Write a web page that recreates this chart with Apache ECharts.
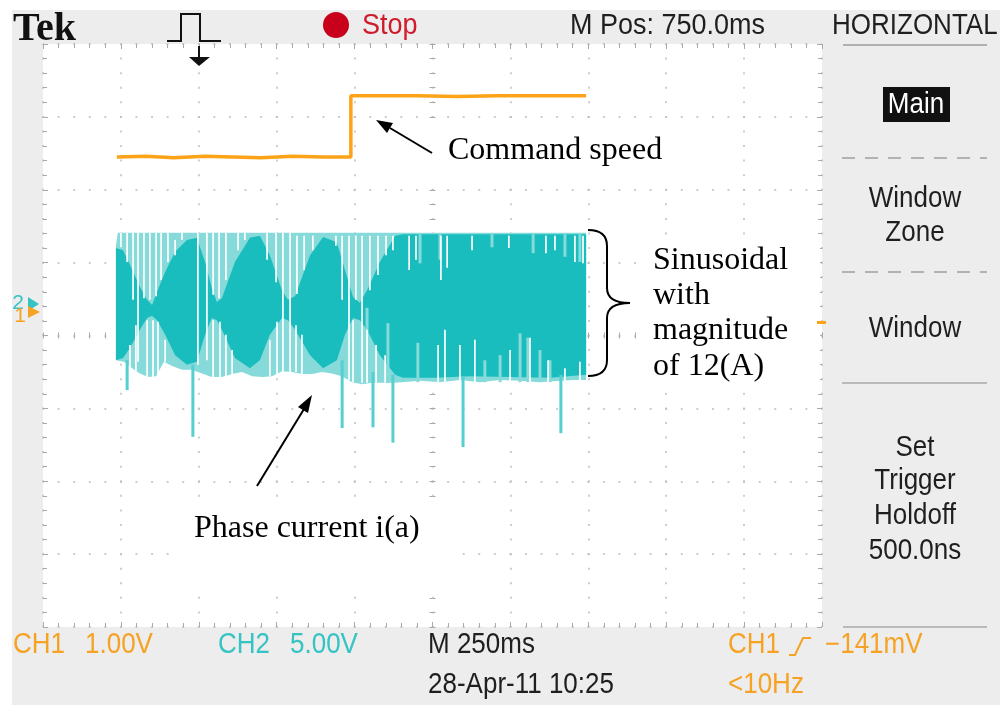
<!DOCTYPE html>
<html>
<head>
<meta charset="utf-8">
<script src="https://cdn.jsdelivr.net/npm/echarts@6/dist/echarts.min.js"></script>
<style>
  html, body { margin: 0; padding: 0; background: #fff; }
  #scope { width: 1000px; height: 705px; }
</style>
</head>
<body>
<div id="scope"></div>
<script>
// ---- Scope settings: 10 horizontal divisions of 250 ms, 8 vertical divisions ----
const X_MIN = 0, X_MAX = 2500, X_STEP = 250;      // ms
const Y_MIN = -4, Y_MAX = 4, Y_STEP = 1;          // divisions

// ---- CH1: command speed (time ms, divisions) ----
const CMD_SPEED = [[237, 2.45], [330, 2.46], [420, 2.44], [520, 2.46], [610, 2.45], [700, 2.44],
  [800, 2.46], [900, 2.45], [988, 2.45], [988, 3.29], [1200, 3.29], [1330, 3.28], [1460, 3.29], [1743, 3.29]];

// ---- CH2: phase current i(a) ----
// outer (aliased) envelope of the trace
const CURRENT_OUTER_TOP = [[234, 1.23], [240, 1.41], [1743, 1.41]];
const CURRENT_OUTER_BOT = [[234, -0.34], [260, -0.36], [286, -0.45], [311, -0.52], [337, -0.57], [363, -0.56],
  [388, -0.36], [414, -0.42], [446, -0.47], [478, -0.47], [510, -0.52], [542, -0.57], [574, -0.57], [607, -0.53],
  [639, -0.50], [671, -0.56], [703, -0.57], [735, -0.56], [767, -0.49], [799, -0.50], [831, -0.53], [863, -0.53],
  [895, -0.50], [927, -0.52], [960, -0.56], [992, -0.64], [1024, -0.67], [1056, -0.65], [1088, -0.65], [1120, -0.65],
  [1152, -0.64], [1210, -0.62], [1274, -0.64], [1338, -0.61], [1402, -0.64], [1467, -0.61], [1531, -0.62],
  [1595, -0.64], [1659, -0.62], [1707, -0.61], [1743, -0.61]];
// dense core of the trace
const CURRENT_CORE_TOP = [[234, 1.20], [257, 1.17], [279, 0.97], [311, 0.67], [334, 0.49], [350, 0.42], [366, 0.60],
  [392, 0.87], [424, 1.15], [462, 1.31], [494, 1.34], [520, 1.01], [542, 0.65], [558, 0.46], [574, 0.51], [616, 1.01],
  [664, 1.34], [696, 1.37], [728, 1.10], [767, 0.62], [786, 0.49], [809, 0.54], [857, 1.10], [899, 1.35], [943, 1.28],
  [969, 0.90], [995, 0.53], [1017, 0.45], [1040, 0.62], [1081, 1.01], [1130, 1.37], [1155, 1.39], [1743, 1.39]];
const CURRENT_CORE_BOT = [[234, -0.34], [257, -0.31], [279, -0.17], [311, 0.08], [334, 0.24], [350, 0.27], [366, 0.21],
  [392, 0.01], [424, -0.27], [462, -0.40], [494, -0.36], [520, 0.01], [542, 0.24], [558, 0.21], [574, 0.08],
  [616, -0.31], [664, -0.45], [696, -0.34], [728, 0.01], [767, 0.24], [786, 0.21], [809, 0.08], [857, -0.27],
  [899, -0.45], [943, -0.34], [969, 0.01], [995, 0.24], [1017, 0.21], [1040, 0.08], [1081, -0.27], [1130, -0.54],
  [1155, -0.58], [1258, -0.58], [1370, -0.56], [1499, -0.57], [1627, -0.58], [1743, -0.54]];
// sparse sweeps inside the dense core: [time, from, to]
const CURRENT_SWEEPS = [[1001, 0.21, -0.64], [1040, 0.38, -0.65], [1107, 0.17, -0.65], [1203, -0.10, -0.64],
  [1418, -0.34, -0.64], [1467, -0.27, -0.64], [1531, 0.03, -0.64], [1556, -0.03, -0.64], [1595, -0.20, -0.64],
  [1627, -0.34, -0.64], [1210, 1.39, 0.99], [1274, 1.39, 1.04], [1441, 1.39, 1.21], [1573, 1.39, 1.13],
  [1675, 1.39, 1.08], [1723, 1.39, 1.01]];
// gaps between sweeps: [time, from, to]
const CURRENT_GAPS = [[250, 1.41, 1.21], [270, 1.41, 1.01], [289, 1.41, 0.49], [305, 1.41, -0.36], [324, 1.41, 0.51],
  [343, 1.41, 0.49], [363, 1.41, 0.54], [379, 1.41, 0.76], [401, 1.41, 1.01], [424, 1.31, 1.10], [446, 1.41, 1.31],
  [497, 1.41, -0.40], [526, 1.41, -0.34], [546, 1.41, 0.56], [565, 1.41, 0.51], [587, 1.41, 0.76], [626, 1.41, 1.17],
  [648, 1.41, 1.31], [719, 1.41, 1.04], [748, 1.41, 0.73], [770, 1.41, -0.54], [793, 1.41, -0.54], [815, 1.37, 0.57],
  [838, 1.37, 0.90], [866, 1.37, 1.17], [940, 1.37, 1.23], [960, 1.37, 0.49], [982, 1.37, -0.61], [1004, 1.37, 0.49],
  [1024, 1.37, -0.65], [1049, 1.37, 0.62], [1075, 1.37, 0.83], [1101, 1.37, 1.10], [1123, 1.37, 1.17],
  [1175, 1.37, 0.90], [1197, 1.37, 1.04], [1277, 1.37, 0.76], [1297, 1.37, 0.93], [1377, 1.37, 1.17],
  [1495, 1.37, 1.20], [1614, 1.37, 1.13], [1643, 1.37, 1.17], [1707, 1.37, 1.01], [1733, 1.37, 0.99],
  [279, -0.13, -0.47], [298, 0.14, -0.54], [334, 0.21, -0.57], [353, 0.21, -0.57], [369, 0.19, -0.54],
  [392, -0.06, -0.36], [546, 0.21, -0.57], [568, 0.19, -0.57], [587, 0.01, -0.57], [607, -0.20, -0.53],
  [728, -0.06, -0.56], [751, 0.19, -0.56], [812, 0.14, -0.50], [831, 0.01, -0.53], [995, 0.21, -0.64],
  [1040, 0.08, -0.65], [1069, -0.13, -0.65], [1098, -0.27, -0.65], [1268, -0.13, -0.64], [1290, 0.08, -0.64],
  [1338, -0.13, -0.64], [1386, -0.06, -0.64], [1499, -0.20, -0.64], [1563, -0.03, -0.64], [1621, -0.34, -0.64],
  [1675, -0.45, -0.64], [1723, -0.36, -0.64]];
// negative spikes: [time, from, to]
const CURRENT_SPIKES = [[270, -0.34, -0.75], [481, -0.40, -1.39], [960, -0.34, -1.27], [1059, -0.50, -1.26],
  [1123, -0.54, -1.47], [1348, -0.56, -1.53], [1662, -0.54, -1.34]];

// ---- Readouts ----
const TOP_READOUT = { pos: 'M Pos: 750.0ms', menu: 'HORIZONTAL', state: 'Stop' };
const CH1_SCALE = ['CH1', '1.00V'];
const CH2_SCALE = ['CH2', '5.00V'];
const TIMEBASE = 'M 250ms';
const STAMP = '28-Apr-11 10:25';
const TRIGGER = ['CH1', '\u2212141mV', '<10Hz'];
const MENU_ITEMS = [['Window', 199], ['Zone', 233], ['Window', 329], ['Set', 448], ['Trigger', 481], ['Holdoff', 516], ['500.0ns', 551]];
const NOTES = { speed: 'Command speed', current: 'Phase current i(a)', magnitude: ['Sinusoidal', 'with', 'magnitude', 'of 12(A)'] };

// ---- Styling ----
const ORANGE = '#fca318', ORANGE_TXT = '#f6a224';
const CYAN_CORE = '#19bdbd', CYAN_LIGHT = '#86dada', CYAN_SPIKE = '#55cfcf', CYAN_TXT = '#36c3c3';
const INK = '#1f1f1f', PANEL = '#ededed';
const DOT = '#bdbdbd', TICK = '#a9a9a9';
const GRID = { left: 43, top: 44, width: 779, height: 583 };
const READ_FONT = '"Liberation Sans", Arial, sans-serif';
const NOTE_FONT = '"Liberation Serif", "Times New Roman", serif';

const chart = echarts.init(document.getElementById('scope'), null, { renderer: 'canvas', width: 1000, height: 705 });

function xAxisAt(position, extra) {
  return Object.assign({
    type: 'value', min: X_MIN, max: X_MAX, interval: X_STEP, position: position,
    axisLine: { show: false, onZero: false }, axisLabel: { show: false },
    axisTick: { show: true, inside: true, length: 5, lineStyle: { color: TICK } },
    minorTick: { show: true, splitNumber: 5, length: 4, lineStyle: { color: TICK } },
    splitLine: { show: false }
  }, extra || {});
}
function yAxisAt(position, extra) {
  return Object.assign({
    type: 'value', min: Y_MIN, max: Y_MAX, interval: Y_STEP, position: position,
    axisLine: { show: false, onZero: false }, axisLabel: { show: false },
    axisTick: { show: true, inside: true, length: 5, lineStyle: { color: TICK } },
    minorTick: { show: true, splitNumber: 5, length: 4, lineStyle: { color: TICK } },
    splitLine: { show: false }
  }, extra || {});
}
const centerTick = (inside) => ({ show: true, inside: inside, length: 3, lineStyle: { color: TICK } });
const centerMinor = { show: true, splitNumber: 5, length: 3, lineStyle: { color: TICK } };

// polygon drawn from all points of the series
function polygonItem(params, api) {
  if (params.dataIndexInside !== 0) return null;
  const pts = [];
  for (let i = 0; i < params.dataInsideLength; i++) {
    pts.push(api.coord([api.value(0, i), api.value(1, i)]));
  }
  return { type: 'polygon', shape: { points: pts }, style: { fill: api.visual('color') } };
}
// vertical stroke [time, from, to]
function strokeItem(width) {
  return function (params, api) {
    const a = api.coord([api.value(0), api.value(1)]);
    const b = api.coord([api.value(0), api.value(2)]);
    return {
      type: 'rect',
      shape: { x: a[0] - width / 2, y: Math.min(a[1], b[1]), width: width, height: Math.abs(b[1] - a[1]) },
      style: { fill: api.visual('color') }
    };
  };
}

function label(text, x, y, color, size, align, extra) {
  return Object.assign({
    type: 'text', x: x, y: y, z: 20, silent: true, scaleY: 1.1,
    style: { text: text, fill: color, fontSize: size, fontFamily: READ_FONT, align: align || 'left', verticalAlign: 'middle' }
  }, extra || {});
}
function note(text, x, y) {
  return {
    type: 'text', x: x, y: y, z: 20, silent: true,
    style: { text: text, fill: '#000', fontSize: 32, fontFamily: NOTE_FONT, align: 'left', verticalAlign: 'middle' }
  };
}
function stroke(type, shape, width) {
  return { type: type, z: 20, silent: true, shape: shape, style: { stroke: '#000', lineWidth: width || 2, fill: null } };
}

const graphics = [
  // white frame margins
  { type: 'rect', shape: { x: 0, y: 0, width: 1000, height: 10 }, style: { fill: '#fff' }, silent: true },
  { type: 'rect', shape: { x: 0, y: 0, width: 12, height: 705 }, style: { fill: '#fff' }, silent: true },
  // brand
  { type: 'text', x: 13, y: 30, z: 20, style: { text: 'Tek', fill: '#111', fontSize: 40, fontWeight: 'bold', fontFamily: NOTE_FONT, verticalAlign: 'middle' } },
  // trigger type pulse and trigger position marker
  { type: 'polyline', z: 20, shape: { points: [[167, 41], [181, 41], [181, 14], [200, 14], [200, 41], [221, 41]] }, style: { stroke: '#111', lineWidth: 2, fill: null } },
  { type: 'line', z: 20, shape: { x1: 199, y1: 46, x2: 199, y2: 58 }, style: { stroke: '#111', lineWidth: 2 } },
  { type: 'polygon', z: 20, shape: { points: [[189, 57], [210, 57], [199, 66]] }, style: { fill: '#111' } },
  // run state
  { type: 'circle', z: 20, shape: { cx: 336, cy: 25, r: 13 }, style: { fill: '#c9001c' } },
  label(TOP_READOUT.state, 362, 26, '#d01b2c', 27),
  label(TOP_READOUT.pos, 570, 26, INK, 27),
  label(TOP_READOUT.menu, 832, 26, INK, 26),
  // side menu
  { type: 'line', z: 20, shape: { x1: 843, y1: 45, x2: 987, y2: 45 }, style: { stroke: '#9c9c9c', lineWidth: 1.5 } },
  { type: 'rect', z: 20, shape: { x: 883, y: 87, width: 67, height: 35 }, style: { fill: '#111' } },
  label('Main', 916, 105, '#fff', 26, 'center'),
  { type: 'line', z: 20, shape: { x1: 842, y1: 158, x2: 987, y2: 158 }, style: { stroke: '#b2b2b2', lineWidth: 2, lineDash: [13, 10] } },
  { type: 'line', z: 20, shape: { x1: 842, y1: 272, x2: 987, y2: 272 }, style: { stroke: '#b2b2b2', lineWidth: 2, lineDash: [13, 10] } },
  { type: 'line', z: 20, shape: { x1: 842, y1: 383, x2: 987, y2: 383 }, style: { stroke: '#a8a8a8', lineWidth: 1.5 } },
  { type: 'line', z: 20, shape: { x1: 843, y1: 627, x2: 987, y2: 627 }, style: { stroke: '#a8a8a8', lineWidth: 1.5 } },
  // channel ground markers and trigger level
  label('2', 18, 303, CYAN_TXT, 21, 'center', { scaleY: 1 }),
  { type: 'polygon', z: 20, shape: { points: [[28, 297], [39, 304], [28, 311]] }, style: { fill: CYAN_TXT } },
  label('1', 20, 316, ORANGE_TXT, 21, 'center', { scaleY: 1 }),
  { type: 'polygon', z: 21, shape: { points: [[28, 306], [40, 312], [28, 318]] }, style: { fill: ORANGE_TXT } },
  { type: 'rect', z: 20, shape: { x: 817, y: 321, width: 9, height: 3 }, style: { fill: ORANGE } },
  // bottom readouts
  label(CH1_SCALE[0], 13, 645, ORANGE_TXT, 26),
  label(CH1_SCALE[1], 85, 645, ORANGE_TXT, 26),
  label(CH2_SCALE[0], 218, 645, CYAN_TXT, 26),
  label(CH2_SCALE[1], 290, 645, CYAN_TXT, 26),
  label(TIMEBASE, 428, 645, INK, 26),
  label(STAMP, 428, 685, INK, 26),
  label(TRIGGER[0], 728, 645, ORANGE_TXT, 26),
  { type: 'polyline', z: 20, shape: { points: [[789, 655], [795, 655], [803, 638], [811, 638]] }, style: { stroke: ORANGE_TXT, lineWidth: 2, fill: null } },
  label(TRIGGER[1], 825, 645, ORANGE_TXT, 26),
  label(TRIGGER[2], 728, 685, ORANGE_TXT, 26),
  // annotation backdrops
  { type: 'rect', z: 1, shape: { x: 425, y: 119, width: 265, height: 64 }, style: { fill: '#fff' }, silent: true },
  { type: 'rect', z: 1, shape: { x: 170, y: 497, width: 282, height: 98 }, style: { fill: '#fff' }, silent: true },
  { type: 'rect', z: 1, shape: { x: 640, y: 240, width: 180, height: 150 }, style: { fill: '#fff' }, silent: true },
  // annotations
  note(NOTES.speed, 448, 151),
  stroke('line', { x1: 432, y1: 153, x2: 390, y2: 128 }),
  { type: 'polygon', z: 20, shape: { points: [[376, 120], [393, 123], [387, 133]] }, style: { fill: '#000' } },
  note(NOTES.current, 194, 529),
  stroke('line', { x1: 257, y1: 486, x2: 304, y2: 409 }),
  { type: 'polygon', z: 20, shape: { points: [[312, 395], [308, 413], [298, 407]] }, style: { fill: '#000' } },
  // curly brace
  stroke('bezierCurve', { x1: 588, y1: 230, cpx1: 607, cpy1: 230, x2: 607, y2: 246 }),
  stroke('line', { x1: 607, y1: 246, x2: 607, y2: 288 }),
  stroke('bezierCurve', { x1: 607, y1: 288, cpx1: 607, cpy1: 303, x2: 630, y2: 303 }),
  stroke('bezierCurve', { x1: 630, y1: 303, cpx1: 607, cpy1: 303, x2: 607, y2: 318 }),
  stroke('line', { x1: 607, y1: 318, x2: 607, y2: 360 }),
  stroke('bezierCurve', { x1: 607, y1: 360, cpx1: 607, cpy1: 376, x2: 588, y2: 376 }),
  note(NOTES.magnitude[0], 653, 261),
  note(NOTES.magnitude[1], 653, 296),
  note(NOTES.magnitude[2], 653, 331),
  note(NOTES.magnitude[3], 653, 367)
].concat(MENU_ITEMS.map(m => label(m[0], 915, m[1], INK, 26, 'center')));

const option = {
  animation: false,
  backgroundColor: PANEL,
  grid: { left: GRID.left, top: GRID.top, width: GRID.width, height: GRID.height, show: true, backgroundColor: '#fff', borderWidth: 0 },
  xAxis: [
    xAxisAt('bottom', { splitLine: { show: true, lineStyle: { color: DOT, width: 1.5, type: [2, GRID.height / 40 - 2], dashOffset: 1 } } }),
    xAxisAt('top'),
    xAxisAt('bottom', { offset: -GRID.height / 2, axisTick: centerTick(true), minorTick: centerMinor }),
    xAxisAt('bottom', { offset: -GRID.height / 2, axisTick: centerTick(false), minorTick: centerMinor })
  ],
  yAxis: [
    yAxisAt('left', { splitLine: { show: true, lineStyle: { color: DOT, width: 1.5, type: [2, GRID.width / 50 - 2], dashOffset: 1 } } }),
    yAxisAt('right'),
    yAxisAt('left', { offset: -GRID.width / 2, axisTick: centerTick(true), minorTick: centerMinor }),
    yAxisAt('left', { offset: -GRID.width / 2, axisTick: centerTick(false), minorTick: centerMinor })
  ],
  series: [
    { name: 'i(a) envelope', type: 'custom', z: 2, silent: true, color: CYAN_LIGHT, renderItem: polygonItem,
      data: CURRENT_OUTER_TOP.concat(CURRENT_OUTER_BOT.slice().reverse()) },
    { name: 'i(a) core', type: 'custom', z: 3, silent: true, color: CYAN_CORE, renderItem: polygonItem,
      data: CURRENT_CORE_TOP.concat(CURRENT_CORE_BOT.slice().reverse()) },
    { name: 'i(a) sweeps', type: 'custom', z: 4, silent: true, color: CYAN_LIGHT, renderItem: strokeItem(3), data: CURRENT_SWEEPS },
    { name: 'i(a) gaps', type: 'custom', z: 5, silent: true, color: '#ffffff', renderItem: strokeItem(1.7), data: CURRENT_GAPS },
    { name: 'i(a) spikes', type: 'custom', z: 4, silent: true, color: CYAN_SPIKE, renderItem: strokeItem(3), data: CURRENT_SPIKES },
    { name: 'Command speed', type: 'line', z: 6, silent: true, showSymbol: false, data: CMD_SPEED,
      lineStyle: { color: ORANGE, width: 3.5 }, itemStyle: { color: ORANGE } }
  ],
  graphic: { elements: graphics }
};
chart.setOption(option);
</script>
</body>
</html>
